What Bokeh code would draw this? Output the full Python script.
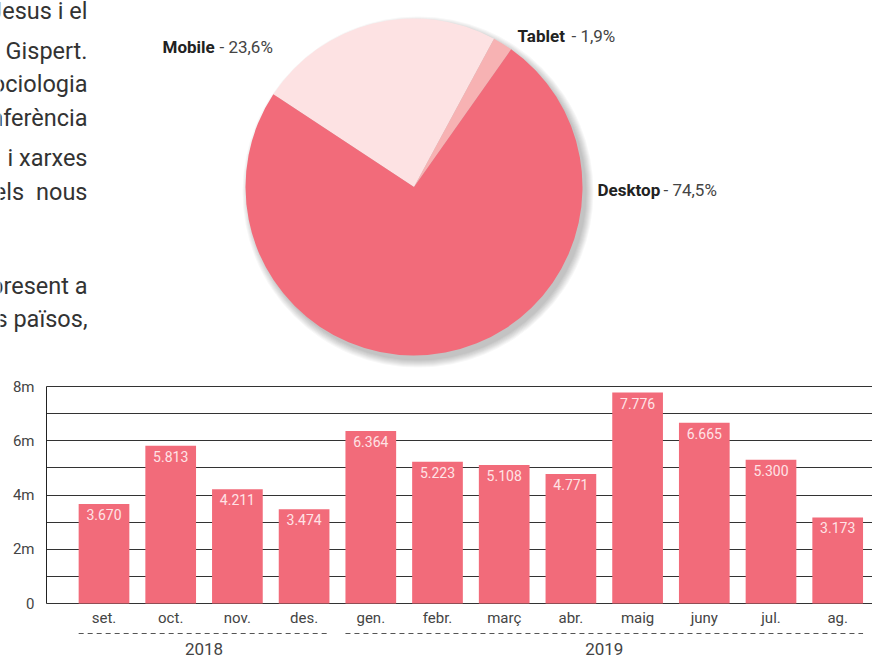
import math
from bokeh.plotting import figure
from bokeh.layouts import column
from bokeh.models import Range1d, FixedTicker
from bokeh.core.properties import value
from bokeh.embed import file_html
from bokeh.resources import INLINE

# ---------------- data ----------------
devices = ["Mobile", "Tablet", "Desktop"]          # clockwise order from the top-left
shares = [23.6, 1.9, 74.5]
share_labels = ["23,6%", "1,9%", "74,5%"]
device_colors = ["#FDE2E3", "#F7B2B3", "#F26B7A"]

months = ["set.", "oct.", "nov.", "des.", "gen.", "febr.", "març", "abr.",
          "maig", "juny", "jul.", "ag."]
visits = [3670, 5813, 4211, 3474, 6364, 5223, 5108, 4771, 7776, 6665, 5300, 3173]
visit_labels = ["3.670", "5.813", "4.211", "3.474", "6.364", "5.223", "5.108",
                "4.771", "7.776", "6.665", "5.300", "3.173"]
years = ["2018", "2019"]
months_per_year = [4, 8]
y_ticks = [0, 2000, 4000, 6000, 8000]
y_tick_labels = ["0", "2m", "4m", "6m", "8m"]
grid_ticks = [0, 1000, 2000, 3000, 4000, 5000, 6000, 7000, 8000]

paragraph = ["Jesus i el", "Gispert.", "sociologia", "conferència", "i xarxes",
             "els\u2002nous", "present a", "els països,"]

FONT_NAME = "Roboto"
FONT = value(FONT_NAME)
BAR_COLOR = "#F26B7A"

W = 872
AXIS_X = 46                       # page x of the bar chart's value axis
# ---------------- top: text + pie ----------------
TOP_H = 373
top = figure(width=W, height=TOP_H, x_range=Range1d(0, W), y_range=Range1d(0, TOP_H),
             output_backend="svg", toolbar_location=None,
             min_border_left=0, min_border_right=0, min_border_top=0, min_border_bottom=0,
             x_axis_location=None, y_axis_location=None)
top.grid.visible = False
top.outline_line_color = None

def py(page_y):
    return TOP_H - page_y

# paragraph fragment on the left (cut by the page edge)
para_baselines = [10, 50, 83, 117, 157, 191, 285, 318]
top.text(x=[87] * len(paragraph), y=[py(b) for b in para_baselines], text=paragraph,
         text_align="right", text_baseline="alphabetic", text_font=FONT,
         text_font_size="23.5px", text_color="#333333")

# pie
cx, cy, r = 413.5, py(186.5), 168.5
for k in range(8):
    top.circle(x=[cx + 4], y=[cy - 5], radius=r + k, fill_color="black",
               fill_alpha=0.03, line_color=None)

start = math.radians(146.6)
ends, starts = [], []
a = start
for s in shares:
    span = 2 * math.pi * s / 100.0
    ends.append(a)
    starts.append(a - span)
    a -= span
top.wedge(x=[cx] * 3, y=[cy] * 3, radius=r, start_angle=starts, end_angle=ends,
          fill_color=device_colors, line_color=None)

# pie labels
lab_bold_x = [162, 517, 597]
lab_val_x = [219, 571, 663]
lab_y = [py(46), py(35), py(189)]
top.text(x=lab_bold_x, y=lab_y, text=devices, text_font=FONT, text_font_style="bold",
         text_font_size="17px", text_color="#222222", text_baseline="middle")
top.text(x=lab_val_x, y=lab_y, text=["- " + s for s in share_labels], text_font=FONT,
         text_font_size="17px", text_color="#444444", text_baseline="middle")

# ---------------- bottom: bar chart ----------------
BAR_H = 655 - TOP_H
TOP_PAD = 13
PX = 8000 / 217.0                 # value units per pixel
CAT = 66.7                        # pixels per month
y_min = -(BAR_H - TOP_PAD - 217) * PX
y_max = 8000 + TOP_PAD * PX
n = len(months)
x_start = -103.5 / CAT            # page x = 0
x_end = x_start + W / CAT
axis_loc = x_start + AXIS_X / CAT
bar = figure(width=W, height=BAR_H, x_range=Range1d(x_start, x_end),
             y_range=Range1d(y_min, y_max), output_backend="svg", toolbar_location=None,
             min_border_left=0, min_border_right=0, min_border_top=0,
             min_border_bottom=0, x_axis_location=None)
bar.outline_line_color = None
bar.xgrid.visible = False
grid = bar.ygrid[0]
grid.ticker = FixedTicker(ticks=grid_ticks)
grid.grid_line_color = "#333333"
grid.grid_line_width = 1
try:
    grid.cross_bounds = (axis_loc, x_end)
except AttributeError:
    bar.quad(left=x_start, right=axis_loc, bottom=-100, top=8100, fill_color="white",
             line_color=None)

ax = bar.yaxis[0]
ax.fixed_location = axis_loc
ax.ticker = FixedTicker(ticks=y_ticks)
ax.major_label_overrides = dict(zip(y_ticks, y_tick_labels))
ax.bounds = (0, 8000)
ax.axis_line_color = "#222222"
ax.major_tick_line_color = None
ax.minor_tick_line_color = None
ax.major_tick_out = 0
ax.major_label_standoff = 12
ax.major_label_text_font = FONT_NAME
ax.major_label_text_font_size = "15px"
ax.major_label_text_color = "#444444"

xs = list(range(n))
bar.vbar(x=xs, top=visits, bottom=0, width=0.76, fill_color=BAR_COLOR, line_color=None)
bar.text(x=xs, y=visits, text=visit_labels, text_align="center", text_baseline="top",
         y_offset=5, text_font=FONT, text_font_size="14px", text_color="#FFE3E6")

# month labels
bar.text(x=xs, y=[-14 * PX] * n, text=months, text_align="center", text_baseline="middle",
         text_font=FONT, text_font_size="15px", text_color="#444444")

# year groups
x0s, x1s, mids = [], [], []
i0 = 0
for m in months_per_year:
    x0s.append(i0 - 0.38)
    x1s.append(i0 + m - 1 + 0.38)
    mids.append(i0 + (m - 1) / 2.0)
    i0 += m
bar.segment(x0=x0s, y0=[-30 * PX] * 2, x1=x1s, y1=[-30 * PX] * 2, line_color="#555555",
            line_width=1.2, line_dash="5 4")
bar.text(x=mids, y=[-39 * PX] * 2, text=years, text_align="center", text_baseline="top",
         text_font=FONT, text_font_size="17px", text_color="#444444")

layout = column(top, bar)
open("out.html", "w").write(file_html(layout, INLINE))
